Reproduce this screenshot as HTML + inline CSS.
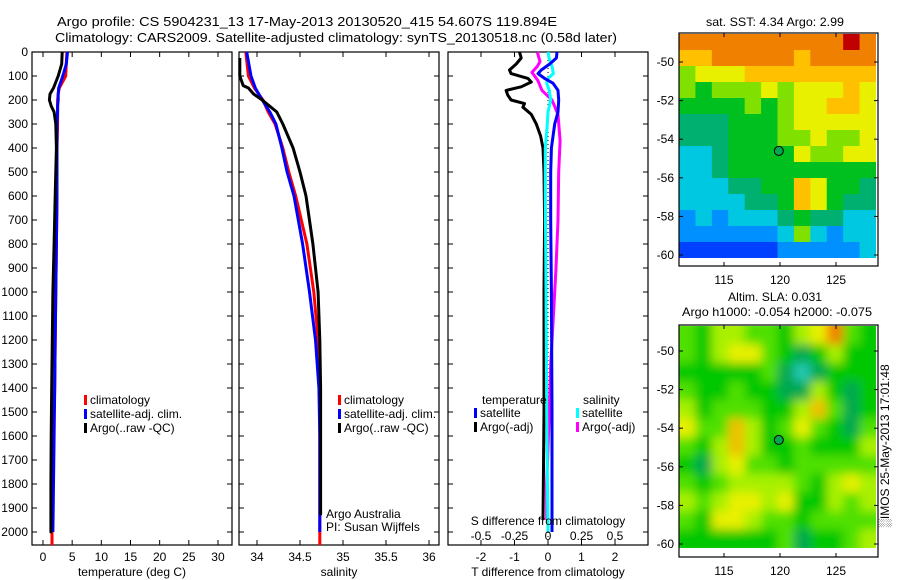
<!DOCTYPE html>
<html><head><meta charset="utf-8">
<style>
html,body{margin:0;padding:0;background:#fff;}
svg{display:block;font-family:"Liberation Sans",sans-serif;}
text{font-size:12px;fill:#000;}
</style></head>
<body>
<svg id="c" width="900" height="580" viewBox="0 0 900 580">
<defs>
<clipPath id="clipTop"><rect x="679" y="34" width="197" height="224"/></clipPath>
<clipPath id="clipBot"><rect x="679" y="326" width="197" height="222"/></clipPath>
<filter id="blur" x="-5%" y="-5%" width="110%" height="110%"><feGaussianBlur stdDeviation="5"/></filter>
</defs>
<text x="57" y="26" style="font-size:13px" textLength="500" lengthAdjust="spacingAndGlyphs">Argo profile: CS 5904231_13 17-May-2013 20130520_415 54.607S 119.894E</text>
<text x="55" y="42" style="font-size:13px" textLength="562" lengthAdjust="spacingAndGlyphs">Climatology: CARS2009. Satellite-adjusted climatology: synTS_20130518.nc (0.58d later)</text>
</svg>
<script>
// ---------- data ----------
const depthT = [0,50,100,150,175,200,225,250,300,400,500,600,800,1000,1200,1400,1600,1800,2000];
const tempClim = [4.1,4.0,3.9,2.8,2.6,2.5,2.5,2.5,2.5,2.4,2.4,2.4,2.3,2.2,2.1,2.0,1.8,1.7,1.55];
const tempSat  = [4.2,4.0,3.4,2.7,2.6,2.6,2.5,2.5,2.4,2.4,2.4,2.4,2.3,2.2,2.1,2.0,1.9,1.8,1.7];
const tempArgo = [3.3,3.2,2.6,1.8,1.2,1.1,1.4,1.9,2.2,2.3,2.2,2.1,1.9,1.7,1.6,1.5,1.4,1.35,1.35];

const depthS = [0,100,150,200,250,300,400,500,600,800,1000,1200,1400,1600,2000];
const salClim = [33.87,33.9,33.97,34.07,34.13,34.21,34.3,34.37,34.45,34.58,34.66,34.71,34.73,34.73,34.73];
const salSat  = [33.88,33.93,33.98,34.06,34.15,34.22,34.29,34.35,34.43,34.53,34.61,34.68,34.72,34.73,34.73];
const depthSA = [25,100,140,150,175,200,250,300,400,500,600,800,1000,1200,1400,1930];
const salArgo = [33.8,33.8,33.84,33.9,33.96,34.06,34.23,34.3,34.42,34.5,34.57,34.65,34.71,34.73,34.74,34.74];

const depthDT = [0,25,50,75,90,110,125,145,160,180,200,215,230,260,300,350,400,500,700,1000,1500,1950];
const dTArgo = [-0.85,-0.8,-0.95,-1.15,-1.1,-0.6,-0.5,-0.8,-1.25,-1.2,-1.1,-0.7,-0.75,-0.5,-0.35,-0.22,-0.15,-0.12,-0.1,-0.12,-0.12,-0.15];
const depthDTS = [0,25,50,75,90,110,130,160,200,250,300,400,500,700,1000,1500,2000];
const dTSat = [0.27,0.25,0.05,-0.2,-0.3,-0.1,0.15,0.3,0.32,0.3,0.2,0.1,0.08,0.08,0.1,0.12,0.12];
const depthDSS = [0,30,60,90,110,130,160,200,250,300,400,600,1000,1500,2000];
const dSSat = [0,0.01,0.03,0.04,0.0,-0.01,0.01,0.02,0.0,-0.005,-0.02,-0.02,-0.015,-0.01,0];
const depthDSA = [0,40,60,85,100,120,160,200,260,370,500,700,900,1100,1300,1500,1800,1950];
const dSArgo = [-0.08,-0.06,-0.08,-0.12,-0.1,-0.075,-0.045,0.03,0.075,0.09,0.08,0.075,0.06,0.04,0.02,0.01,-0.01,-0.01];

const depthTicks = [0,100,200,300,400,500,600,700,800,900,1000,1100,1200,1300,1400,1500,1600,1700,1800,1900,2000];
const tempTicks = [0,5,10,15,20,25,30];
const salTicks = [34,34.5,35,35.5,36];
const dTTicks = [-2,-1,0,1,2];
const dSTicks = [-0.5,-0.25,0,0.25,0.5];
const latTicks = [-50,-52,-54,-56,-58,-60];
const lonTicks = [115,120,125];

const sstGrid = [
[9,9,9,9,9,9,9,9,9,9,10,9],
[8,8,9,9,9,9,9,8,9,9,9,9],
[6,7,7,7,8,8,8,8,8,8,8,8],
[6,5,6,6,6,7,6,7,7,7,8,7],
[5,5,5,5,6,5,6,7,7,8,8,7],
[4,4,4,5,5,5,6,7,7,7,7,7],
[4,4,4,5,5,5,6,6,7,6,6,7],
[3,3,4,5,5,5,5,7,6,6,7,7],
[3,3,4,5,5,5,5,5,5,5,5,5],
[3,3,3,4,4,5,5,8,7,5,5,4],
[3,3,3,3,4,4,5,8,7,5,4,4],
[2,3,2,3,3,3,4,5,4,4,3,3],
[2,2,2,2,2,2,3,6,3,2,3,3],
[1,1,1,1,1,1,2,2,2,2,2,3]];
const slaGrid = [
[3,2,4,4,3,3,2,4,5,7,3,2],
[3,2,4,5,5,3,2,1,2,4,2,2],
[2,2,2,2,2,3,1,0,1,2,2,2],
[3,2,2,3,2,2,1,1,4,2,1,2],
[4,2,3,3,3,2,2,4,6,3,1,2],
[5,3,3,6,4,2,3,5,3,2,1,3],
[3,2,4,6,4,2,2,3,2,2,2,4],
[2,1,4,5,3,3,2,3,3,3,3,3],
[3,2,3,4,4,4,4,3,2,4,5,4],
[4,3,4,5,5,4,5,2,2,4,3,4],
[3,2,5,5,4,3,3,2,3,3,3,3],
[2,2,2,2,2,2,3,1,2,2,3,4]];
const sstColors = ['#0000a0','#0040ff','#0090ff','#00c8e0','#00b070','#00c020','#80e000','#e8f000','#ffc000','#f08000','#c00000'];
const slaColors = ['#20c8b0','#00a850','#00c800','#50e000','#a8f000','#e8f000','#f0c000','#f08000'];
const argoLon = 119.894, argoLat = -54.607;

// ---------- helpers ----------
const svg = document.getElementById('c');
const NS = 'http://www.w3.org/2000/svg';
function mk(tag, attrs, parent){ const e=document.createElementNS(NS,tag); for(const k in attrs) e.setAttribute(k,attrs[k]); (parent||svg).appendChild(e); return e; }
function txt(x,y,s,anchor,size){ const t=mk('text',{x:x,y:y,'text-anchor':anchor||'start'}); if(size) t.style.fontSize=size+'px'; t.textContent=s; return t; }

const Y = d => 52 + 0.24*d;
const XT = v => 43 + 5.833*v;
const XS = v => 257 + 86*(v-34);
const XDT = v => 548 + 33.5*v;
const XDS = v => 548 + 134*v;
const MX = lon => 780 + 11.2*(lon-120);
const MYT = lat => 62 + 19.3*(-50-lat);
const MYB = lat => 351 + 19.3*(-50-lat);

function line(xs, ds, xf, color, name, extra){
  let d='';
  xs.forEach((v,i)=>{ d += (i?'L':'M') + xf(v).toFixed(1) + ' ' + Y(ds[i]).toFixed(1); });
  if(extra!==undefined) d += 'L' + xf(xs[xs.length-1]).toFixed(1) + ' ' + Y(extra).toFixed(1);
  const p = mk('path',{d:d,fill:'none',stroke:color,'stroke-width':3,'stroke-linejoin':'round'});
  
  
  return p;
}

function panel(x0,x1,name,xticks,xf){
  const g = mk('g',{});
  
  
  mk('rect',{x:x0,y:52,width:x1-x0,height:493,fill:'none',stroke:'#000','stroke-width':1.2},g);
  depthTicks.forEach(d=>{
    mk('line',{x1:x0,x2:x0+5,y1:Y(d),y2:Y(d),stroke:'#000'},g);
    mk('line',{x1:x1-5,x2:x1,y1:Y(d),y2:Y(d),stroke:'#000'},g);
  });
  xticks.forEach(v=>{
    mk('line',{x1:xf(v),x2:xf(v),y1:52,y2:57,stroke:'#000'},g);
    mk('line',{x1:xf(v),x2:xf(v),y1:540,y2:545,stroke:'#000'},g);
    const t = txt(xf(v),561,String(v),'middle');
    
    
  });
  return g;
}

// ---------- panel 1 ----------
panel(32,232,'temperature-panel',tempTicks,XT);
depthTicks.forEach(d=>{
  const t = txt(28,Y(d)+4,String(d),'end');
  
  
});
line(tempClim, depthT, XT, '#ff0000', 'temp-climatology-line', 2054);
line(tempSat, depthT, XT, '#0000ff', 'temp-satellite-line');
line(tempArgo, depthT, XT, '#000000', 'temp-argo-line', 1960);
const xl1 = txt(132,576,'temperature (deg C)','middle');



function legend(x, y, items){
  items.forEach((it,i)=>{
    const r = mk('rect',{x:x,y:y+i*14-9,width:3,height:10,fill:it[0]});
    
    
    const t = txt(x+6,y+i*14,it[1]);
    
    
  });
}
legend(84,404,[['#ff0000','climatology'],['#0000ff','satellite-adj. clim.'],['#000000','Argo(..raw -QC)']]);

// ---------- panel 2 ----------
panel(239,439,'salinity-panel',salTicks,XS);
line(salClim, depthS, XS, '#ff0000', 'sal-climatology-line', 2054);
line(salSat, depthS, XS, '#0000ff', 'sal-satellite-line');
line(salArgo, depthSA, XS, '#000000', 'sal-argo-line');
const xl2 = txt(339,576,'salinity','middle');


legend(338,404,[['#ff0000','climatology'],['#0000ff','satellite-adj. clim.'],['#000000','Argo(..raw -QC)']]);
const a1 = txt(326,518,'Argo Australia');  
const a2 = txt(326,531,'PI: Susan Wijffels');  

// ---------- panel 3 ----------
panel(448,648,'difference-panel',dTTicks,XDT);
const zl = mk('line',{x1:XDT(0),x2:XDT(0),y1:52,y2:545,stroke:'#000','stroke-dasharray':'1 3'});


line(dTArgo, depthDT, XDT, '#000000', 'dT-argo-line');
line(dSArgo, depthDSA, XDS, '#ff00ff', 'dS-argo-line');
line(dSSat, depthDSS, XDS, '#00ffff', 'dS-satellite-line');
line(dTSat, depthDTS, XDT, '#0000ff', 'dT-satellite-line');
const sl = txt(548,525,'S difference from climatology','middle');


dSTicks.forEach(v=>{
  const t = txt(XDS(v),540,String(v),'middle');
  
  
});
const xl3 = txt(548,576,'T difference from climatology','middle');


const lt = txt(482,404,'temperature');  
const ls = txt(583,404,'salinity');  
legend(474,417,[['#0000ff','satellite'],['#000000','Argo(-adj)']]);
legend(576,417,[['#00ffff','satellite'],['#ff00ff','Argo(-adj)']]);

// ---------- maps ----------
function map(grid, colors, top, bottom, axBottom, yf, clipId, name, blur){
  const g = mk('g',{});
  
  
  const cg = mk('g',{'clip-path':'url(#'+clipId+')'},g);
  const inner = mk('g',blur?{filter:'url(#blur)'}:{},cg);
  const rows = grid.length, cols = grid[0].length;
  const cw = 197/cols, ch = (bottom-top)/rows;
  grid.forEach((row,r)=>row.forEach((v,c)=>{
    const ex = blur?8:0;
    const cell = mk('rect',{x:679+c*cw-(c==0?ex:0),y:top+r*ch-(r==0?ex:0),width:cw+0.6+(c==0||c==cols-1?ex:0),height:ch+0.6+(r==0||r==rows-1?ex:0),fill:colors[v]},inner);
    
    
  }));
  mk('rect',{x:679,y:top-1,width:199,height:axBottom-top+1,fill:'none',stroke:'#000','stroke-width':1.2},g);
  latTicks.forEach(l=>{
    mk('line',{x1:679,x2:683,y1:yf(l),y2:yf(l),stroke:'#000'},g);
    mk('line',{x1:874,x2:878,y1:yf(l),y2:yf(l),stroke:'#000'},g);
    const t = txt(674,yf(l)+4,String(l),'end');
    
    
  });
  lonTicks.forEach(l=>{
    mk('line',{x1:MX(l),x2:MX(l),y1:top-1,y2:top+3,stroke:'#000'},g);
    mk('line',{x1:MX(l),x2:MX(l),y1:axBottom-4,y2:axBottom,stroke:'#000'},g);
    const t = txt(MX(l),axBottom+18,String(l),'middle');
    
    
  });
  const m = mk('circle',{cx:MX(argoLon),cy:yf(argoLat),r:4.5,fill:'#00a850',stroke:'#000','stroke-width':1},g);
  
  
}
map(sstGrid, sstColors, 34, 258, 266, MYT, 'clipTop', 'sst-map', false);
map(slaGrid, slaColors, 326, 548, 557, MYB, 'clipBot', 'sla-map', true);
const st = txt(775,26,'sat. SST: 4.34 Argo: 2.99','middle');  
st.setAttribute('textLength','138'); st.setAttribute('lengthAdjust','spacingAndGlyphs');
const s1 = txt(775,301,'Altim. SLA: 0.031','middle');  
s1.setAttribute('textLength','94'); s1.setAttribute('lengthAdjust','spacingAndGlyphs');
const s2 = txt(777,316,'Argo h1000: -0.054 h2000: -0.075','middle');  
s2.setAttribute('textLength','190'); s2.setAttribute('lengthAdjust','spacingAndGlyphs');
const im = txt(0,0,'\u2591IMOS 25-May-2013 17:01:48','middle');
im.setAttribute('transform','translate(889,446) rotate(-90)');


</script>
</body></html>
